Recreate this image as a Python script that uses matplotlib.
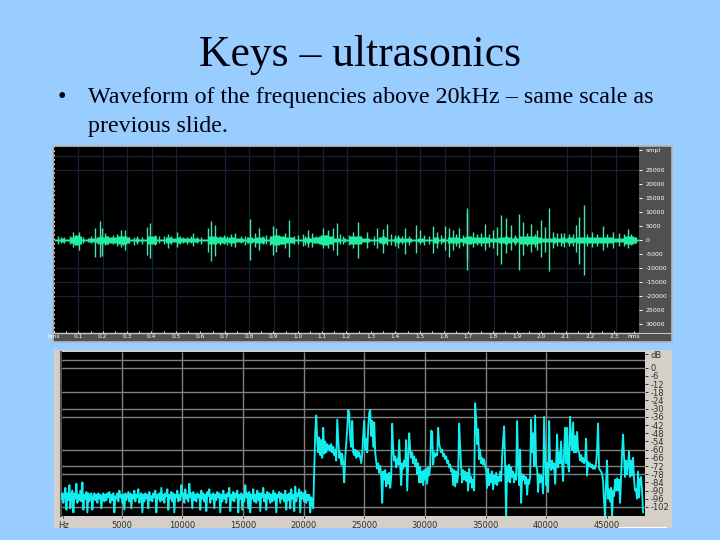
import numpy as np
import matplotlib
matplotlib.use("Agg")
import matplotlib.pyplot as plt
from matplotlib.patches import Rectangle

# --- Slide text ---
TITLE = "Keys \u2013 ultrasonics"
BULLET_1 = "Waveform of the frequencies above 20kHz \u2013 same scale as"
BULLET_2 = "previous slide."

# --- Waveform data (time offset in axis units, amplitude in samples) ---
wave_body = [
    500, 300, 600, 400, 500, 1200, 1500, 1700, 1600, 500, 400, 700, 800, 600,
    1200, 1300, 1100, 1400, 1200, 1000, 900, 1400, 1300, 1500, 1200, 500, 400,
    600, 500, 300, 400, 1400, 1600, 1300, 400, 500, 400, 900, 1100, 800, 800,
    900, 700, 700, 700, 800, 800, 600, 300, 300, 400, 1400, 1500, 1300, 900,
    1100, 1000, 600, 900, 1000, 800, 800, 800, 500, 900, 1000, 700, 1000, 1100,
    900, 500, 500, 1600, 1700, 1700, 1600, 1400, 1000, 1100, 900, 400, 500, 500,
    800, 900, 800, 900, 1000, 1500, 1700, 1800, 1600, 1400, 700, 600, 500, 700,
    500, 1400, 1600, 1500, 1400,
    700, 800, 600, 400, 500, 400, 1100, 1300, 1100, 500, 400, 800, 900, 700,
    700, 800, 600, 500, 400, 700, 600, 500, 500, 400, 1000, 900, 500, 600, 500,
    900, 1000, 900, 1000, 800, 900, 1500, 1500, 1200, 1000, 1100, 900, 1000,
    1100, 800, 700, 800, 900, 1200, 1300, 1000, 800, 900, 800, 1300, 1400, 1500,
    1300, 1400, 1500, 1100, 700, 800, 600, 800, 900, 800, 700, 900, 800, 900,
    900, 800, 1000, 1000, 1000, 1100, 1000, 1100, 900, 1000, 1100, 1000, 900,
    1000, 800, 700, 800, 700, 1300, 1500, 1400, 1100, 500,
]
spike_t = [
    13, 30, 56, 63, 76, 88, 124, 138, 145, 153, 190, 201, 214, 226, 240, 278,
    288, 302, 330, 342, 368, 388, 418, 430, 462, 472, 482, 498, 530, 543, 588,
    603, 616, 626, 658, 666, 693, 706, 720, 746, 761, 773, 808, 823, 836, 848,
    868, 898, 911, 938, 968, 986, 998, 1033, 1053, 1086, 1099, 1138, 1148, 1174,
    1186, 1198, 1215, 1238, 1240, 1258, 1293, 1316, 1330, 1342, 1356, 1370,
    1396, 1408, 1432, 1448, 1460, 1473, 1486, 1496, 1530, 1566, 1576, 1591,
    1613, 1646, 1678, 1723, 1743,
    22, 48, 70, 112, 131, 160, 176, 208, 250, 264, 316, 352, 378, 400, 412, 442,
    510, 520, 560, 574, 636, 648, 680, 732, 754, 786, 800, 816, 858, 884, 920,
    960, 1010, 1022, 1045, 1066, 1110, 1125, 1160, 1206, 1226, 1270, 1280, 1305,
    1382, 1420, 1442, 1510, 1520, 1545, 1556, 1600, 1630, 1660, 1696, 1710, 1732,
]
spike_up = [
    1400, 1200, 3000, 1800, 3000, 1200, 4200, 6800, 4200, 2400, 2200, 3600,
    3600, 1200, 1000, 4600, 6200, 1800, 1400, 2200, 3000, 1000, 2400, 1200,
    4200, 6800, 5400, 1400, 2200, 2400, 7400, 2400, 4200, 1400, 5000, 4200,
    2600, 7200, 1400, 2200, 3600, 2600, 4200, 3600, 4200, 6000, 1400, 3000,
    6600, 3000, 4200, 3800, 5800, 1800, 4200, 5400, 3600, 5000, 3000, 5000,
    4200, 3600, 4200, 11400, 9600, 3000, 5800, 3400, 4800, 9000, 7800, 5400,
    9400, 6600, 5800, 3600, 7200, 4800, 11400, 3000, 2400, 5400, 8200, 12600,
    3000, 5000, 3000, 3800, 1200,
    1000, 1600, 1200, 1400, 1100, 1300, 1700, 1500, 1600, 1200, 1400, 1300,
    1500, 1100, 1600, 1200, 1700, 1500, 1400, 1600, 1700, 1500, 1200, 1800,
    1500, 1400, 1700, 1900, 2000, 1700, 1500, 1600, 2000, 1800, 1500, 1600,
    1900, 1400, 1700, 2200, 1800, 2000, 2400, 2000, 1900, 2600, 2200, 2600,
    2400, 2000, 2200, 2000, 2200, 2200, 2400, 2000, 2000,
]
spike_down = [
    1400, 1200, 2600, 1800, 3400, 1000, 6000, 6000, 5800, 1800, 2200, 2600,
    3400, 1200, 1800, 5400, 6600, 1800, 1400, 3000, 2400, 1200, 2200, 1200,
    4200, 7400, 5800, 1800, 2200, 2400, 7200, 2400, 3600, 1400, 5400, 4200,
    3000, 6200, 1400, 2200, 2600, 2600, 3000, 3000, 3400, 5500, 1400, 3000,
    6600, 3000, 3000, 4800, 1800, 3000, 5000, 4800, 1400, 4600, 3000, 3400,
    6000, 3400, 3000, 7200, 10800, 2400, 3400, 3000, 5400, 8400, 4800, 3600,
    10800, 5400, 4200, 3600, 6000, 4200, 11000, 3000, 2400, 4200, 8400, 12600,
    2600, 3600, 3000, 3000, 1200,
    1200, 1400, 1400, 1200, 1300, 1500, 1400, 1800, 1400, 1400, 1200, 1500,
    1300, 1400, 1200, 1500, 1400, 1700, 1200, 1800, 1400, 1700, 1500, 1500,
    1700, 1200, 1500, 1700, 1600, 1900, 1300, 1800, 1700, 2000, 1300, 1800,
    1700, 1600, 1500, 2000, 2000, 1800, 2000, 2400, 1700, 2200, 2400, 2200,
    2000, 2300, 2000, 2200, 2000, 2400, 2000, 2200, 1800,
]
wave_grid_t = [73, 148, 220, 295, 367, 514, 586, 661, 733, 808, 880, 1027,
               1099, 1174, 1246, 1321, 1540, 1612, 1687]
wave_grid_amp = [30000, 25000, -10000, -15000, -20000]
wave_tick_t = [0, 73, 146, 219, 292, 366, 439, 512, 585, 658, 731, 804, 877,
               950, 1023, 1097, 1170, 1243, 1316, 1389, 1462, 1535, 1608, 1681, 1740]
wave_tick_labels = ["hms", "0.1", "0.2", "0.3", "0.4", "0.5", "0.6", "0.7", "0.8",
                    "0.9", "1.0", "1.1", "1.2", "1.3", "1.4", "1.5", "1.6", "1.7",
                    "1.8", "1.9", "2.0", "2.1", "2.2", "2.3", "hms"]
amp_ticks = [32000, 25000, 20000, 15000, 10000, 5000, 0, -5000, -10000, -15000,
             -20000, -25000, -30000]
amp_labels = ["smpl", "25000", "20000", "15000", "10000", "5000", "0", "-5000",
              "-10000", "-15000", "-20000", "25000", "30000"]

# --- Spectrum data (dB, one value per FFT column) ---
spec_floor = [
    -96, -92, -99, -93, -88, -104, -92, -97, -86, -103, -93, -90, -106, -92, -96, -85, -99, -93, -97, -90,
    -98, -84, -104, -93, -96, -91, -106, -92, -98, -94, -92, -104, -95, -92, -97, -93, -99, -92, -96, -93,
    -103, -94, -92, -98, -93, -97, -92, -95, -91, -99, -93, -97, -92, -106, -94, -96, -92, -98, -90, -95,
    -93, -99, -93, -104, -92, -97, -94, -91, -98, -92, -103, -93, -96, -90, -98, -93, -95, -89, -99, -94,
    -92, -106, -93, -98, -92, -96, -93, -103, -91, -97, -94, -98, -92, -95, -90, -106, -93, -96, -92, -98,
    -88, -97, -93, -99, -92, -94, -89, -104, -93, -96, -91, -98, -92, -106, -93, -95, -90, -98, -93, -97,
    -86, -94, -92, -99, -89, -96, -93, -98, -85, -95, -92, -103, -91, -97, -93, -98, -92, -95, -93, -104,
    -90, -96, -92, -98, -93, -105, -91, -94, -89, -99, -93, -96, -92, -103, -93, -97, -91, -95, -92, -106,
    -93, -98, -90, -96, -93, -99, -92, -94, -88, -105, -93, -97, -91, -98, -92, -95, -90, -106, -93, -96,
    -92, -104, -93, -98, -86, -95, -92, -103, -91, -106, -93, -96, -89, -98, -93, -99, -90, -97, -92, -105,
    -92, -95, -88, -98, -93, -104, -91, -96, -92, -99, -93, -98, -90, -97, -92, -106, -93, -95, -91, -99,
    -92, -96, -93, -98, -90, -104, -93, -97, -92, -103, -89, -96, -93, -105, -87, -98, -92, -94, -89, -106,
    -91, -96, -92, -98, -90, -99, -93, -97, -93, -106, -95, -100, -103,
]
spec_upper = [
    -74, -47, -35, -54, -62, -51, -64, -53, -66, -44, -63, -54, -62, -56, -60, -57, -61, -56, -62, -58,
    -64, -60, -68, -38, -52, -66, -62, -71, -63, -70, -84, -66, -56, -45, -31, -33, -52, -58, -39, -62,
    -64, -60, -66, -61, -65, -62, -66, -70, -63, -50, -39, -60, -52, -62, -44, -33, -31, -50, -39, -58,
    -40, -62, -69, -74, -70, -77, -72, -79, -99, -76, -82, -75, -87, -78, -85, -77, -88, -80, -41, -60,
    -68, -65, -73, -67, -71, -53, -72, -86, -70, -74, -68, -72, -53, -90, -70, -48, -60, -66, -62, -70,
    -65, -72, -67, -78, -70, -84,
    -73, -84, -76, -86, -75, -82, -74, -85, -73, -79, -72, -46, -47, -71, -62, -65, -63, -64, -44, -56,
    -59, -62, -60, -65, -63, -67, -65, -70, -68, -73, -71, -76, -74, -86, -75, -87, -76, -84, -78, -41,
    -58, -73, -84, -75, -82, -76, -83, -77, -90, -74, -84, -80, -88, -82, -90, -26, -38, -56, -45, -67,
    -60, -70, -66, -71, -67, -72, -75, -88, -74, -86, -78, -84, -76, -89, -79, -85, -77, -86, -80, -83,
    -76, -83, -65, -53, -43, -72, -110, -72, -83, -71, -84, -73, -80, -76, -84, -78, -82, -39, -70, -86,
    -60, -99, -78, -82, -79, -85, -80, -93, -82, -85, -80, -38, -62, -48, -72,
    -35, -72, -74, -91, -78, -84, -79, -83, -92, -36, -60, -86, -70, -91, -39, -72, -75, -68, -74, -70,
    -85, -70, -49, -73, -62, -70, -54, -71, -83, -62, -44, -70, -44, -72, -76, -36, -54, -60, -40, -62,
    -50, -62, -47, -61, -62, -68, -64, -69, -66, -70, -68, -52, -79, -69, -72, -70, -73, -71, -74, -72,
    -74, -70, -60, -41, -74, -75, -76, -78, -83, -98, -110, -84, -68, -96, -89, -98, -88, -110, -90, -94,
    -82, -90, -81, -90, -82, -99, -80, -62, -49, -66, -80, -68, -78, -70, -61, -80, -68, -79, -66, -82,
    -90, -89, -96, -76, -95, -82, -80, -90, -106,
]
freq_grid = [5000, 10000, 15000, 20000, 25000, 30000, 35000, 40000]
freq_ticks = [200, 5000, 10000, 15000, 20000, 25000, 30000, 35000, 40000, 45000]
freq_labels = ["Hz", "5000", "10000", "15000", "20000", "25000", "30000", "35000", "40000", "45000"]
db_grid = [6, 0, -18, -30, -36, -60, -72, -78, -102]
db_ticks = [10, 0, -6, -12, -18, -24, -30, -36, -42, -48, -54, -60, -66, -72, -78, -84, -90, -96, -102]
db_labels = ["dB", "0", "-6", "-12", "-18", "-24", "-30", "-36", "-42", "-48", "-54", "-60",
             "-66", "-72", "-78", "-84", "-90", "-96", "-102"]

# --- Layout ---
W, H = 720, 540
BG = "#99CCFF"
FFT_STEP = 82.4


def px_axes(fig, left, top, right, bottom, **kw):
    """Axes placed with image pixel coordinates (y measured from the top)."""
    return fig.add_axes([left / W, 1 - bottom / H, (right - left) / W, (bottom - top) / H], **kw)


fig = plt.figure(figsize=(7.2, 5.4), dpi=100, facecolor=BG)

serif = ["Liberation Serif", "DejaVu Serif"]
fig.text(360 / W, 1 - 66 / H, TITLE, family=serif, fontsize=31.4, color="#000010", ha="center", va="baseline")
fig.text(62 / W, 1 - 103 / H, "\u2022", family=serif, fontsize=17.3, color="#000010", ha="center", va="baseline")
fig.text(88 / W, 1 - 103 / H, BULLET_1, family=serif, fontsize=17.3, color="#000010", va="baseline")
fig.text(88 / W, 1 - 132 / H, BULLET_2, family=serif, fontsize=17.3, color="#000010", va="baseline")

# --- Waveform screenshot ---
frame = px_axes(fig, 53, 146, 672, 342, facecolor="#505050")
frame.set_xticks([])
frame.set_yticks([])
for s in frame.spines.values():
    s.set_color("#B8B8B8")
    s.set_linewidth(1.2)

ax = px_axes(fig, 54, 147, 639, 333, facecolor="black", zorder=2)
wave_x = np.arange(len(wave_body)) * 9 + 4.5
ax.vlines(wave_grid_t, -33200, 33200, color="#16223A", linewidth=0.9, zorder=1)
ax.hlines(wave_grid_amp, 0, 1755, color="#16223A", linewidth=0.9, zorder=1)
ax.vlines(spike_t, -np.array(spike_down), spike_up, color="#48E4AA", linewidth=1.0, zorder=2)
ax.vlines(wave_x, -np.array(wave_body), wave_body, color="#22EEA0", linewidth=2.3, zorder=3)
ax.axvline(0, color="white", linestyle=":", linewidth=1.2, zorder=4)
ax.set_xlim(0, 1755)
ax.set_ylim(-33200, 33200)
ax.yaxis.tick_right()
ax.set_xticks(wave_tick_t)
ax.set_xticklabels(wave_tick_labels)
ax.set_xticks(np.array(wave_tick_t[1:-1]) - 36.5, minor=True)
ax.set_yticks(amp_ticks)
ax.set_yticklabels(amp_labels)
ax.tick_params(axis="x", which="both", colors="white", labelsize=4.2, length=1.5, width=0.7, pad=0.8, direction="in")
ax.tick_params(axis="y", colors="white", labelsize=4.5, length=2, width=0.7, pad=2.5)
for s in ax.spines.values():
    s.set_visible(False)
ax.spines["bottom"].set_visible(True)
ax.spines["bottom"].set_color("#C8C8C8")
ax.spines["bottom"].set_linewidth(1)

# --- Spectrum screenshot ---
frame2 = px_axes(fig, 54, 350, 672, 527.5, facecolor="#D4D0C8")
frame2.set_xticks([])
frame2.set_yticks([])
for s in frame2.spines.values():
    s.set_visible(False)

ax2 = px_axes(fig, 61, 352.3, 645, 515.7, facecolor="black", zorder=2)
db = np.array(spec_floor + spec_upper)
freq = np.arange(len(db)) * FFT_STEP + 33
ax2.vlines(freq_grid, -108.4, 11.3, color="#808080", linewidth=1, zorder=1)
ax2.hlines(db_grid, 0, 48150, color="#808080", linewidth=1, zorder=1)
ax2.plot(freq, db, color="#12EEEE", linewidth=1.35, zorder=3)
ax2.set_xlim(0, 48150)
ax2.set_ylim(-108.4, 11.3)
ax2.yaxis.tick_right()
ax2.set_xticks(freq_ticks)
ax2.set_xticklabels(freq_labels)
ax2.set_yticks(db_ticks)
ax2.set_yticklabels(db_labels)
ax2.tick_params(axis="x", colors="#303030", labelsize=6, length=1.5, width=0.7, pad=2.5)
ax2.tick_params(axis="y", colors="#303030", labelsize=6, length=2, width=0.7, pad=2)
for s in ax2.spines.values():
    s.set_visible(False)
ax2.spines["left"].set_visible(True)
ax2.spines["left"].set_color("#505050")
ax2.spines["left"].set_linewidth(1.5)

# strip line across the amplitude ruler and the sliver under the spectrum panel
fig.patches.append(Rectangle((639 / W, 1 - 333.5 / H), 32 / W, 1 / H, transform=fig.transFigure,
                             facecolor="#C8C8C8", edgecolor="none", figure=fig, zorder=5))
fig.patches.append(Rectangle((618 / W, 1 - 528 / H), 49 / W, 1 / H, transform=fig.transFigure,
                             facecolor="white", edgecolor="none", figure=fig, zorder=5))

fig.savefig("out.png", dpi=100, facecolor=BG)
